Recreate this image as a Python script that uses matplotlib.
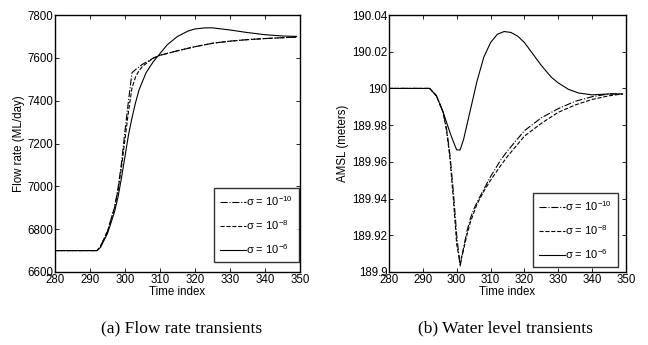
import matplotlib
matplotlib.use("Agg")
import matplotlib.pyplot as plt
import numpy as np

plt.rcParams['font.family'] = ['Liberation Sans', 'DejaVu Sans']
plt.rcParams['mathtext.fontset'] = 'custom'
plt.rcParams['mathtext.rm'] = 'Liberation Sans'
plt.rcParams['mathtext.it'] = 'Liberation Sans:italic'

# ---- Flow rate data ----
t_flow_s6 = [280, 292, 293, 295, 297, 298, 299, 300, 301, 302, 303, 304, 306, 308, 310, 312, 315, 318, 320, 323, 325, 330, 335, 340, 345, 349]
flow_s6   = [6700, 6700, 6715, 6780, 6880, 6950, 7040, 7140, 7240, 7320, 7390, 7450, 7530, 7580, 7620, 7660, 7700, 7725, 7735, 7740, 7740, 7730, 7718, 7708, 7702, 7700]

t_flow_s10 = [280, 292, 293, 295, 297, 298, 299, 300, 301, 302, 303, 305, 308, 310, 315, 320, 325, 330, 335, 340, 345, 349]
flow_s10   = [6700, 6700, 6720, 6790, 6900, 6990, 7110, 7260, 7400, 7530, 7545, 7570, 7598, 7612, 7633, 7652, 7668, 7678, 7685, 7690, 7694, 7697]

t_flow_s8 = [280, 292, 293, 295, 297, 298, 299, 300, 301, 302, 303, 304, 305, 308, 310, 315, 320, 325, 330, 335, 340, 345, 349]
flow_s8   = [6700, 6700, 6720, 6790, 6900, 6980, 7090, 7220, 7350, 7460, 7510, 7540, 7560, 7598, 7612, 7633, 7652, 7668, 7678, 7685, 7690, 7694, 7697]

# ---- Water level data ----
t_lev_s6 = [280, 292, 294, 296, 298, 299, 300, 301, 302, 304, 306, 308, 310, 312, 314, 316, 318, 320, 322, 325, 328, 330, 333, 336, 340, 345, 349]
lev_s6   = [190.0, 190.0, 189.996, 189.987, 189.976, 189.971, 189.9665, 189.9665, 189.972, 189.988, 190.004, 190.017, 190.025, 190.0295, 190.031, 190.0305, 190.0285, 190.025, 190.020, 190.0125, 190.006, 190.003, 189.9995, 189.9975, 189.9965, 189.997, 189.997]

t_lev_s10 = [280, 292, 294, 296, 297, 298, 299, 300, 301, 302, 303, 304, 305, 306, 308, 310, 313, 315, 320, 325, 330, 335, 340, 345, 349]
lev_s10   = [190.0, 190.0, 189.996, 189.987, 189.978, 189.964, 189.944, 189.920, 189.903, 189.913, 189.922, 189.929, 189.934, 189.938, 189.945, 189.952, 189.961, 189.966, 189.977, 189.984, 189.989, 189.993, 189.9955, 189.997, 189.997]

t_lev_s8 = [280, 292, 294, 296, 297, 298, 299, 300, 301, 302, 303, 304, 305, 306, 308, 310, 313, 315, 320, 325, 330, 335, 340, 345, 349]
lev_s8   = [190.0, 190.0, 189.996, 189.987, 189.977, 189.962, 189.940, 189.915, 189.905, 189.912, 189.920, 189.927, 189.932, 189.937, 189.944, 189.950, 189.958, 189.963, 189.974, 189.981, 189.987, 189.991, 189.994, 189.996, 189.997]

labels = ['\u03c3 = 10$^{-10}$', '\u03c3 = 10$^{-8}$', '\u03c3 = 10$^{-6}$']

flow_xticks = [280, 290, 300, 310, 320, 330, 340, 350]
flow_yticks = [6600, 6800, 7000, 7200, 7400, 7600, 7800]
lev_yticks = [189.9, 189.92, 189.94, 189.96, 189.98, 190.0, 190.02, 190.04]
lev_yticklabels = ['189.9', '189.92', '189.94', '189.96', '189.98', '190', '190.02', '190.04']

fig = plt.figure(figsize=(6.48, 3.45), dpi=100)
W, H = 648, 345
ax1 = fig.add_axes([55 / W, 1 - 272 / H, 245 / W, 257 / H])
ax2 = fig.add_axes([389 / W, 1 - 272 / H, 237 / W, 257 / H])

fs = 8.3
for ax in (ax1, ax2):
    ax.tick_params(direction='in', top=True, right=True, labelsize=fs, length=3, width=0.6, pad=1.2)
    for s in ax.spines.values():
        s.set_linewidth(1.0)
    ax.set_xlim(280, 350)
    ax.set_xticks(flow_xticks)
    ax.set_xlabel('Time index', fontsize=fs, labelpad=0)

lw = 0.8
ax1.plot(t_flow_s10, flow_s10, color='black', ls='-.', lw=lw, label=labels[0])
ax1.plot(t_flow_s8, flow_s8, color='black', ls='--', lw=lw, label=labels[1])
ax1.plot(t_flow_s6, flow_s6, color='black', ls='-', lw=lw, label=labels[2])
ax1.set_ylim(6600, 7800)
ax1.set_yticks(flow_yticks)
ax1.set_ylabel('Flow rate (ML/day)', fontsize=fs, labelpad=2)

ax2.plot(t_lev_s10, lev_s10, color='black', ls='-.', lw=lw, label=labels[0])
ax2.plot(t_lev_s8, lev_s8, color='black', ls='--', lw=lw, label=labels[1])
ax2.plot(t_lev_s6, lev_s6, color='black', ls='-', lw=lw, label=labels[2])
ax2.set_ylim(189.9, 190.04)
ax2.set_yticks(lev_yticks)
ax2.set_yticklabels(lev_yticklabels)
ax2.set_ylabel('AMSL (meters)', fontsize=fs, labelpad=2)

for ax, anchor in ((ax1, (0.995, 0.04)), (ax2, (0.965, 0.02))):
    leg = ax.legend(loc='lower right', bbox_to_anchor=anchor, borderaxespad=0,
                    fontsize=8, frameon=True, fancybox=False, edgecolor='black',
                    handlelength=2.3, handletextpad=0.0, labelspacing=0.9,
                    borderpad=0.55)
    leg.get_frame().set_linewidth(1.0)

fig.text(182 / W, 1 - 328 / H, '(a) Flow rate transients', ha='center', va='center',
         fontsize=12.5, family=['Liberation Serif', 'DejaVu Serif'])
fig.text(505 / W, 1 - 328 / H, '(b) Water level transients', ha='center', va='center',
         fontsize=12.5, family=['Liberation Serif', 'DejaVu Serif'])

fig.savefig('out.png', dpi=100)
